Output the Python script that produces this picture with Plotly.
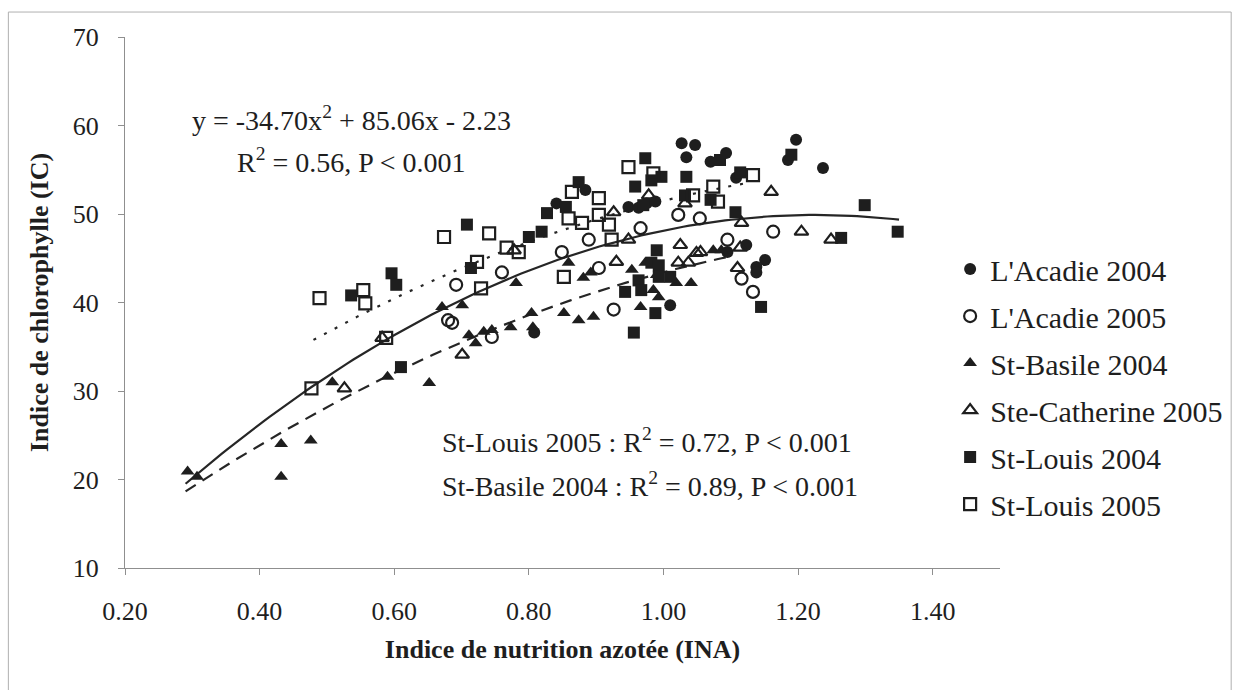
import numpy as np
import plotly.graph_objects as go

# ---- data: (INA, IC) pairs per site/year ----
acadie04_x = [1.027, 1.047, 1.034, 0.884, 0.948, 0.963, 0.975, 0.988, 0.841, 1.093, 1.070,
              1.197, 1.185, 1.237, 1.108, 1.095, 1.123, 1.138, 1.151, 1.138, 1.010, 0.808]
acadie04_y = [58.0, 57.8, 56.4, 52.7, 50.8, 50.7, 51.2, 51.4, 51.2, 56.9, 55.9,
              58.4, 56.1, 55.2, 54.1, 45.7, 46.5, 44.0, 44.8, 43.4, 39.7, 36.6]

acadie05_x = [1.022, 0.966, 0.889, 0.849, 0.760, 0.692, 0.686, 0.680, 0.745, 0.904, 0.926,
              1.095, 1.116, 1.133, 1.163, 1.054]
acadie05_y = [49.9, 48.4, 47.1, 45.7, 43.4, 42.0, 37.7, 38.0, 36.1, 43.9, 39.2,
              47.1, 42.7, 41.2, 48.0, 49.5]

basile04_x = [0.293, 0.307, 0.432, 0.432, 0.476, 0.508, 0.590, 0.652, 0.671, 0.701, 0.711,
              0.721, 0.733, 0.745, 0.773, 0.781, 0.804, 0.806, 0.852, 0.859, 0.874, 0.881,
              0.892, 0.896, 0.953, 0.966, 0.973, 0.985, 0.990, 0.993, 1.019, 1.041, 1.074, 1.086]
basile04_y = [20.9, 20.3, 24.0, 20.3, 24.4, 31.0, 31.6, 30.9, 39.5, 39.7, 36.3,
              35.4, 36.7, 36.9, 37.2, 42.2, 38.8, 37.2, 38.8, 44.5, 38.0, 42.8,
              43.4, 38.4, 43.7, 39.5, 44.5, 41.4, 43.1, 40.6, 42.2, 42.2, 45.9, 45.9]

catherine05_x = [0.526, 0.582, 0.701, 0.778, 0.930, 0.948, 0.926, 0.978, 1.032, 1.025,
                 1.049, 1.022, 1.037, 1.055, 1.114, 1.110, 1.116, 1.160, 1.205, 1.249]
catherine05_y = [30.3, 36.0, 34.1, 45.9, 44.6, 47.1, 50.2, 52.1, 51.2, 46.5,
                 45.6, 44.5, 44.5, 45.7, 46.2, 43.9, 49.0, 52.5, 48.0, 47.1]

louis04_x = [0.536, 0.596, 0.603, 0.610, 0.708, 0.714, 0.800, 0.819, 0.827, 0.855, 0.874,
             0.958, 0.973, 0.997, 0.982, 1.034, 1.032, 0.990, 0.982, 0.993, 0.963, 0.993,
             1.010, 0.967, 0.943, 0.988, 0.956, 1.084, 1.190, 1.114, 1.070, 1.107, 1.299,
             1.264, 1.348, 1.145, 0.970]
louis04_y = [40.8, 43.3, 42.0, 32.7, 48.8, 43.9, 47.4, 48.0, 50.1, 50.8, 53.6,
             53.1, 56.3, 54.2, 53.8, 54.2, 52.1, 45.9, 44.5, 44.2, 42.5, 42.9,
             42.9, 41.4, 41.2, 38.8, 36.6, 56.1, 56.7, 54.7, 51.6, 50.2, 51.0,
             47.3, 48.0, 39.5, 51.0]

louis05_x = [0.477, 0.489, 0.554, 0.557, 0.588, 0.674, 0.723, 0.729, 0.741, 0.767, 0.785,
             0.852, 0.859, 0.864, 0.879, 0.904, 0.904, 0.919, 0.923, 0.948, 0.985, 1.044,
             1.074, 1.081, 1.133]
louis05_y = [30.3, 40.5, 41.4, 39.9, 36.0, 47.4, 44.6, 41.6, 47.8, 46.2, 45.7,
             42.9, 49.5, 52.5, 49.0, 51.8, 49.9, 48.8, 47.1, 55.3, 54.6, 52.1,
             53.1, 51.4, 54.4]

# ---- quadratic trend curves: coefficients (a, b, c) and x extent ----
all_coef = [-34.70, 85.06, -2.23]
all_span = [0.29, 1.35]
louis05_coef = [-22.0, 62.8, 10.7]
louis05_span = [0.48, 1.12]
basile04_coef = [-20.8, 61.7, 2.52]
basile04_span = [0.29, 1.10]

x_ticks = [0.2, 0.4, 0.6, 0.8, 1.0, 1.2, 1.4]
x_tick_text = ["0.20", "0.40", "0.60", "0.80", "1.00", "1.20", "1.40"]
y_ticks = [10, 20, 30, 40, 50, 60, 70]

SERIF = "Liberation Serif, Times New Roman, serif"
INK = "#1e1e1e"
AXIS = "#8f8f8f"

fig = go.Figure()

series = [
    ("L'Acadie 2004", acadie04_x, acadie04_y, "circle"),
    ("L'Acadie 2005", acadie05_x, acadie05_y, "circle-open"),
    ("St-Basile 2004", basile04_x, basile04_y, "triangle-up"),
    ("Ste-Catherine 2005", catherine05_x, catherine05_y, "triangle-up-open"),
    ("St-Louis 2004", louis04_x, louis04_y, "square"),
    ("St-Louis 2005", louis05_x, louis05_y, "square-open"),
]


def quad_curve(coef, span, n=120):
    xs = np.linspace(span[0], span[1], n)
    return xs, coef[0] * xs ** 2 + coef[1] * xs + coef[2]


# trend curves drawn beneath the markers
for coef, span, dash in [(all_coef, all_span, "solid"),
                         (louis05_coef, louis05_span, "3px,9px"),
                         (basile04_coef, basile04_span, "12px,8px")]:
    cx, cy = quad_curve(coef, span)
    fig.add_trace(go.Scatter(x=cx, y=cy, mode="lines", showlegend=False, hoverinfo="skip",
                             line=dict(color="#262626", width=2.2, dash=dash)))

for i, (name, xs, ys, sym) in enumerate(series):
    is_open = sym.endswith("open")
    fig.add_trace(go.Scatter(
        x=xs, y=ys, mode="markers", name=name, legendgroup=f"g{i}",
        marker=dict(symbol=sym, size=12, color=INK,
                    line=dict(color=INK, width=2.2 if is_open else 0)),
    ))

fig.add_annotation(x=0.296, y=60.8, xref="x", yref="y", xanchor="left", yanchor="middle",
                   text="y = -34.70x<sup>2</sup> + 85.06x - 2.23", showarrow=False,
                   font=dict(family=SERIF, size=28, color=INK))
fig.add_annotation(x=0.363, y=56.0, xref="x", yref="y", xanchor="left", yanchor="middle",
                   text="R<sup>2</sup> = 0.56, P < 0.001", showarrow=False,
                   font=dict(family=SERIF, size=28, color=INK))
fig.add_annotation(x=0.668, y=24.4, xref="x", yref="y", xanchor="left", yanchor="middle",
                   text="St-Louis 2005 : R<sup>2</sup> = 0.72, P < 0.001", showarrow=False,
                   font=dict(family=SERIF, size=28, color=INK))
fig.add_annotation(x=0.668, y=19.4, xref="x", yref="y", xanchor="left", yanchor="middle",
                   text="St-Basile 2004 : R<sup>2</sup> = 0.89, P < 0.001", showarrow=False,
                   font=dict(family=SERIF, size=28, color=INK))

# outer chart frame (bottom edge runs past the page)
fig.add_shape(type="rect", xref="paper", yref="paper",
              x0=-0.1333, x1=1.2642, y0=-0.25, y1=1.047,
              line=dict(color="#b0b0b0", width=1))

fig.update_layout(
    width=1240, height=690, autosize=False,
    margin=dict(l=125, r=237, t=37, b=122),
    paper_bgcolor="white", plot_bgcolor="white",
    font=dict(family=SERIF, color=INK),
    legend=dict(x=0.943, y=0.612, xanchor="left", yanchor="top",
                font=dict(family=SERIF, size=30, color=INK),
                tracegroupgap=5,
                bgcolor="rgba(0,0,0,0)"),
    xaxis=dict(range=[0.2, 1.5], tickvals=x_ticks, ticktext=x_tick_text,
               showline=True, linecolor=AXIS, linewidth=1, ticks="outside",
               ticklen=6, tickcolor=AXIS, showgrid=False, zeroline=False,
               ticklabelstandoff=14,
               tickfont=dict(family=SERIF, size=26, color=INK),
               title=dict(text="<b>Indice de nutrition azotée (INA)</b>", standoff=14,
                          font=dict(family=SERIF, size=26, color=INK))),
    yaxis=dict(range=[10, 70], tickvals=y_ticks,
               showline=True, linecolor=AXIS, linewidth=1, ticks="outside",
               ticklen=6, tickcolor=AXIS, showgrid=False, zeroline=False,
               ticklabelstandoff=14,
               tickfont=dict(family=SERIF, size=26, color=INK),
               title=dict(text="<b>Indice de chlorophylle (IC)</b>", standoff=16,
                          font=dict(family=SERIF, size=26, color=INK))),
)

fig.write_html("out.html")
